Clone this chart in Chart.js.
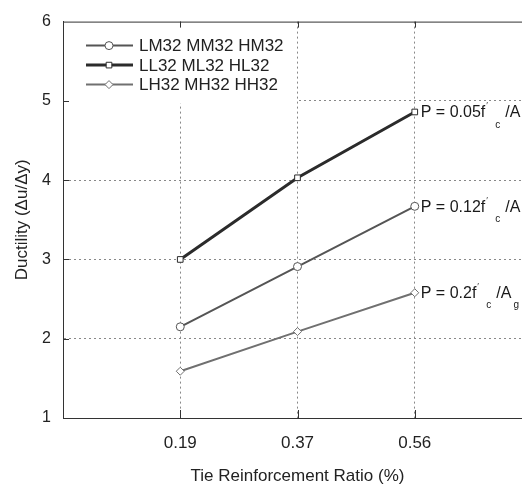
<!DOCTYPE html>
<html>
<head>
<meta charset="utf-8">
<script src="https://cdn.jsdelivr.net/npm/chart.js@4/dist/chart.umd.min.js"></script>
<style>
  html, body { margin: 0; padding: 0; background: #fff; overflow: hidden; }
  #grafico { display: block; }
</style>
</head>
<body>
<canvas id="grafico" width="547" height="488"></canvas>
<script>
// taxas de armadura transversal (eixo x) e posição de cada uma no eixo
const razoes = ['0.19', '0.37', '0.56'];
const posicoes = [1, 2, 3];

// nomes das séries (legenda)
const nomesSeries = ['LM32 MM32 HM32', 'LL32 ML32 HL32', 'LH32 MH32 HH32'];

// ductilidade por série
const ductLM = [2.15, 2.91, 3.67];
const ductLL = [3.00, 4.03, 4.86];
const ductLH = [1.59, 2.09, 2.58];

// nível de carga axial de cada série (P = k f'c / Ag)
const cargas = ['0.12', '0.05', '0.2'];

const yTicks = [1, 2, 3, 4, 5, 6];

const FONTE = '"Liberation Sans", Arial, sans-serif';
const estilos = [
  { cor: '#555', largura: 2, ponto: 'circle' },
  { cor: '#2b2b2b', largura: 3, ponto: 'rect' },
  { cor: '#707070', largura: 2, ponto: 'rectRot' }
];

function pontos(valores) {
  return valores.map((v, i) => ({ x: posicoes[i], y: v }));
}

const series = [ductLM, ductLL, ductLH];

// desenha o quadro, os traços dos ticks, a legenda e os rótulos de carga
const extras = {
  id: 'extras',
  beforeDatasetsDraw(chart) {
    const ctx = chart.ctx;
    const a = chart.chartArea;
    const sx = chart.scales.x, sy = chart.scales.y;
    ctx.save();

    // caixa branca da legenda
    ctx.fillStyle = '#fff';
    ctx.fillRect(a.left + 1, a.top + 1, 233, 81);

    // moldura
    ctx.strokeStyle = '#333';
    ctx.lineWidth = 1;
    ctx.strokeRect(a.left + 0.5, a.top + 0.5, a.right - a.left, a.bottom - a.top);

    // traços internos dos ticks
    ctx.beginPath();
    posicoes.forEach(p => {
      const x = Math.round(sx.getPixelForValue(p)) + 0.5;
      ctx.moveTo(x, a.bottom); ctx.lineTo(x, a.bottom - 8);
      ctx.moveTo(x, a.top); ctx.lineTo(x, a.top + 6);
    });
    yTicks.slice(1, -1).forEach(v => {
      const y = Math.round(sy.getPixelForValue(v)) + 0.5;
      ctx.moveTo(a.left, y); ctx.lineTo(a.left + 6, y);
    });
    ctx.stroke();

    // legenda
    ctx.font = '17px ' + FONTE;
    ctx.textBaseline = 'middle';
    nomesSeries.forEach((nome, i) => {
      const y = a.top + 24 + i * 19.5;
      const e = estilos[i];
      ctx.strokeStyle = e.cor;
      ctx.lineWidth = e.largura;
      ctx.beginPath();
      ctx.moveTo(a.left + 23, y); ctx.lineTo(a.left + 70, y);
      ctx.stroke();
      ctx.fillStyle = '#fff';
      ctx.lineWidth = 1;
      Chart.helpers.drawPoint(ctx, { pointStyle: e.ponto, radius: 4, borderWidth: 1 }, a.left + 46, y);
      ctx.fillStyle = '#222';
      ctx.fillText(nome, a.left + 76, y + 1);
    });
    ctx.restore();
  },
  afterDatasetsDraw(chart) {
    const ctx = chart.ctx;
    ctx.save();
    ctx.fillStyle = '#1a1a1a';
    ctx.textBaseline = 'middle';
    chart.data.datasets.forEach((ds, i) => {
      const meta = chart.getDatasetMeta(i);
      const p = meta.data[meta.data.length - 1];
      let x = p.x + 6;
      const y = p.y + 1;
      ctx.font = '16px ' + FONTE;
      const txt = 'P = ' + cargas[i] + 'f';
      ctx.fillText(txt, x, y);
      x += ctx.measureText(txt).width;
      ctx.font = '9px ' + FONTE;
      ctx.fillText('\u2032', x + 1, y - 7);
      ctx.font = '10px ' + FONTE;
      ctx.fillText('c', x + 10, y + 12);
      x += 20;
      ctx.font = '16px ' + FONTE;
      ctx.fillText('/A', x, y);
      x += ctx.measureText('/A').width;
      ctx.font = '10px ' + FONTE;
      ctx.fillText('g', x + 2, y + 12);
    });
    ctx.restore();
  }
};

const ctx = document.getElementById('grafico').getContext('2d');
const grafico = new Chart(ctx, {
  type: 'line',
  data: {
    datasets: series.map((valores, i) => ({
      label: nomesSeries[i],
      data: pontos(valores),
      borderColor: estilos[i].cor,
      borderWidth: estilos[i].largura,
      pointStyle: estilos[i].ponto,
      pointRadius: 4,
      pointBorderWidth: 1,
      pointBackgroundColor: '#fff',
      pointBorderColor: estilos[i].cor,
      tension: 0
    }))
  },
  options: {
    responsive: false,
    animation: false,
    layout: { padding: { top: 18, right: 6, left: 0, bottom: 0 } },
    plugins: {
      legend: { display: false },
      tooltip: { enabled: false }
    },
    scales: {
      x: {
        type: 'linear',
        min: 0,
        max: 4,
        afterBuildTicks: s => { s.ticks = [0, 1, 2, 3, 4].map(v => ({ value: v })); },
        afterFit: s => { s.height = 70; },
        ticks: {
          padding: 15,
          color: '#222',
          font: { family: FONTE, size: 17 },
          maxRotation: 0,
          callback: v => (posicoes.indexOf(v) >= 0 ? razoes[posicoes.indexOf(v)] : '')
        },
        grid: {
          drawTicks: false,
          color: c => (posicoes.indexOf(c.tick.value) >= 0 ? '#888' : 'transparent')
        },
        border: { color: '#333', width: 1, dash: [2, 3] },
        title: {
          display: true,
          text: 'Tie Reinforcement Ratio (%)',
          color: '#222',
          font: { family: FONTE, size: 17 },
          padding: { top: 4, bottom: 1 }
        }
      },
      y: {
        min: 1,
        max: 6,
        afterBuildTicks: s => { s.ticks = yTicks.map(v => ({ value: v })); },
        afterFit: s => { s.width = 63; },
        ticks: {
          padding: 12,
          color: '#222',
          font: { family: FONTE, size: 16 }
        },
        grid: {
          drawTicks: false,
          color: c => (c.tick.value > 1 && c.tick.value < 6 ? '#888' : 'transparent')
        },
        border: { color: '#333', width: 1, dash: [2, 3] },
        title: {
          display: true,
          text: 'Ductility (\u0394u/\u0394y)',
          color: '#222',
          font: { family: FONTE, size: 17 },
          padding: { top: 12, bottom: 4 }
        }
      }
    }
  },
  plugins: [extras]
});
</script>
</body>
</html>
